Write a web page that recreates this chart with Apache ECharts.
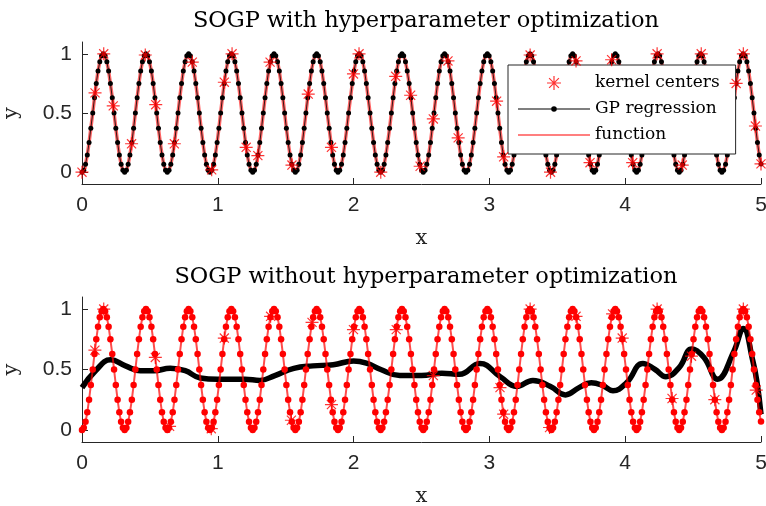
<!DOCTYPE html>
<html>
<head>
<meta charset="utf-8">
<script src="https://cdn.jsdelivr.net/npm/echarts@6/dist/echarts.min.js"></script>
<style>
  html, body { margin: 0; padding: 0; background: #fff; }
  #chart { width: 766px; height: 506px; }
</style>
</head>
<body>
<div id="chart"></div>
<script>
// Sample inputs (24 samples per period of the target function)
const xs = [
  0.000,0.013,0.026,0.039,0.052,0.065,0.079,0.092,0.105,0.118,0.131,0.144,0.157,0.170,0.183,0.196,0.209,0.223,0.236,0.249,0.262,0.275,0.288,0.301,
  0.314,0.327,0.340,0.353,0.367,0.380,0.393,0.406,0.419,0.432,0.445,0.458,0.471,0.484,0.497,0.511,0.524,0.537,0.550,0.563,0.576,0.589,0.602,0.615,
  0.628,0.641,0.654,0.668,0.681,0.694,0.707,0.720,0.733,0.746,0.759,0.772,0.785,0.798,0.812,0.825,0.838,0.851,0.864,0.877,0.890,0.903,0.916,0.929,
  0.942,0.956,0.969,0.982,0.995,1.008,1.021,1.034,1.047,1.060,1.073,1.086,1.100,1.113,1.126,1.139,1.152,1.165,1.178,1.191,1.204,1.217,1.230,1.244,
  1.257,1.270,1.283,1.296,1.309,1.322,1.335,1.348,1.361,1.374,1.388,1.401,1.414,1.427,1.440,1.453,1.466,1.479,1.492,1.505,1.518,1.532,1.545,1.558,
  1.571,1.584,1.597,1.610,1.623,1.636,1.649,1.662,1.676,1.689,1.702,1.715,1.728,1.741,1.754,1.767,1.780,1.793,1.806,1.820,1.833,1.846,1.859,1.872,
  1.885,1.898,1.911,1.924,1.937,1.950,1.963,1.977,1.990,2.003,2.016,2.029,2.042,2.055,2.068,2.081,2.094,2.107,2.121,2.134,2.147,2.160,2.173,2.186,
  2.199,2.212,2.225,2.238,2.251,2.265,2.278,2.291,2.304,2.317,2.330,2.343,2.356,2.369,2.382,2.395,2.409,2.422,2.435,2.448,2.461,2.474,2.487,2.500,
  2.513,2.526,2.539,2.553,2.566,2.579,2.592,2.605,2.618,2.631,2.644,2.657,2.670,2.683,2.697,2.710,2.723,2.736,2.749,2.762,2.775,2.788,2.801,2.814,
  2.827,2.841,2.854,2.867,2.880,2.893,2.906,2.919,2.932,2.945,2.958,2.971,2.985,2.998,3.011,3.024,3.037,3.050,3.063,3.076,3.089,3.102,3.115,3.129,
  3.142,3.155,3.168,3.181,3.194,3.207,3.220,3.233,3.246,3.259,3.272,3.286,3.299,3.312,3.325,3.338,3.351,3.364,3.377,3.390,3.403,3.416,3.430,3.443,
  3.456,3.469,3.482,3.495,3.508,3.521,3.534,3.547,3.560,3.574,3.587,3.600,3.613,3.626,3.639,3.652,3.665,3.678,3.691,3.704,3.718,3.731,3.744,3.757,
  3.770,3.783,3.796,3.809,3.822,3.835,3.848,3.862,3.875,3.888,3.901,3.914,3.927,3.940,3.953,3.966,3.979,3.992,4.006,4.019,4.032,4.045,4.058,4.071,
  4.084,4.097,4.110,4.123,4.136,4.150,4.163,4.176,4.189,4.202,4.215,4.228,4.241,4.254,4.267,4.280,4.294,4.307,4.320,4.333,4.346,4.359,4.372,4.385,
  4.398,4.411,4.424,4.437,4.451,4.464,4.477,4.490,4.503,4.516,4.529,4.542,4.555,4.568,4.581,4.595,4.608,4.621,4.634,4.647,4.660,4.673,4.686,4.699,
  4.712,4.725,4.739,4.752,4.765,4.778,4.791,4.804,4.817,4.830,4.843,4.856,4.869,4.883,4.896,4.909,4.922,4.935,4.948,4.961,4.974,4.987,5.000
];

// Function values at the sample inputs
const fx = [
  0,0.017,0.067,0.146,0.25,0.371,0.5,0.629,0.75,0.854,0.933,0.983,1,0.983,0.933,0.854,0.75,0.629,0.5,0.371,0.25,0.146,0.067,0.017,
  0,0.017,0.067,0.146,0.25,0.371,0.5,0.629,0.75,0.854,0.933,0.983,1,0.983,0.933,0.854,0.75,0.629,0.5,0.371,0.25,0.146,0.067,0.017,
  0,0.017,0.067,0.146,0.25,0.371,0.5,0.629,0.75,0.854,0.933,0.983,1,0.983,0.933,0.854,0.75,0.629,0.5,0.371,0.25,0.146,0.067,0.017,
  0,0.017,0.067,0.146,0.25,0.371,0.5,0.629,0.75,0.854,0.933,0.983,1,0.983,0.933,0.854,0.75,0.629,0.5,0.371,0.25,0.146,0.067,0.017,
  0,0.017,0.067,0.146,0.25,0.371,0.5,0.629,0.75,0.854,0.933,0.983,1,0.983,0.933,0.854,0.75,0.629,0.5,0.371,0.25,0.146,0.067,0.017,
  0,0.017,0.067,0.146,0.25,0.371,0.5,0.629,0.75,0.854,0.933,0.983,1,0.983,0.933,0.854,0.75,0.629,0.5,0.371,0.25,0.146,0.067,0.017,
  0,0.017,0.067,0.146,0.25,0.371,0.5,0.629,0.75,0.854,0.933,0.983,1,0.983,0.933,0.854,0.75,0.629,0.5,0.371,0.25,0.146,0.067,0.017,
  0,0.017,0.067,0.146,0.25,0.371,0.5,0.629,0.75,0.854,0.933,0.983,1,0.983,0.933,0.854,0.75,0.629,0.5,0.371,0.25,0.146,0.067,0.017,
  0,0.017,0.067,0.146,0.25,0.371,0.5,0.629,0.75,0.854,0.933,0.983,1,0.983,0.933,0.854,0.75,0.629,0.5,0.371,0.25,0.146,0.067,0.017,
  0,0.017,0.067,0.146,0.25,0.371,0.5,0.629,0.75,0.854,0.933,0.983,1,0.983,0.933,0.854,0.75,0.629,0.5,0.371,0.25,0.146,0.067,0.017,
  0,0.017,0.067,0.146,0.25,0.371,0.5,0.629,0.75,0.854,0.933,0.983,1,0.983,0.933,0.854,0.75,0.629,0.5,0.371,0.25,0.146,0.067,0.017,
  0,0.017,0.067,0.146,0.25,0.371,0.5,0.629,0.75,0.854,0.933,0.983,1,0.983,0.933,0.854,0.75,0.629,0.5,0.371,0.25,0.146,0.067,0.017,
  0,0.017,0.067,0.146,0.25,0.371,0.5,0.629,0.75,0.854,0.933,0.983,1,0.983,0.933,0.854,0.75,0.629,0.5,0.371,0.25,0.146,0.067,0.017,
  0,0.017,0.067,0.146,0.25,0.371,0.5,0.629,0.75,0.854,0.933,0.983,1,0.983,0.933,0.854,0.75,0.629,0.5,0.371,0.25,0.146,0.067,0.017,
  0,0.017,0.067,0.146,0.25,0.371,0.5,0.629,0.75,0.854,0.933,0.983,1,0.983,0.933,0.854,0.75,0.629,0.5,0.371,0.25,0.146,0.067,0.017,
  0,0.017,0.067,0.146,0.25,0.371,0.5,0.629,0.75,0.854,0.933,0.983,1,0.983,0.933,0.854,0.75,0.629,0.5,0.371,0.25,0.146,0.069
];

// GP prediction with optimized hyperparameters (follows the function at the samples)
const gpOpt = fx;

// GP prediction without hyperparameter optimization
const gpPlainX = [0, 0.1, 0.21, 0.32, 0.43, 0.53, 0.65, 0.76, 0.87, 1.0, 1.1, 1.2, 1.31, 1.42, 1.56, 1.7, 1.85, 2.0, 2.1, 2.2, 2.34, 2.5, 2.65, 2.78, 2.93, 3.08, 3.2, 3.32, 3.45, 3.56, 3.66, 3.75, 3.83, 3.91, 4.01, 4.13, 4.22, 4.3, 4.4, 4.49, 4.58, 4.68, 4.8, 4.87, 4.94, 4.97, 5.0];
const gpPlainY = [0.35, 0.49, 0.58, 0.53, 0.49, 0.49, 0.51, 0.49, 0.43, 0.42, 0.42, 0.42, 0.41, 0.45, 0.51, 0.53, 0.54, 0.57, 0.55, 0.5, 0.45, 0.45, 0.47, 0.46, 0.55, 0.44, 0.36, 0.41, 0.36, 0.29, 0.35, 0.39, 0.37, 0.325, 0.39, 0.55, 0.5, 0.44, 0.52, 0.67, 0.6, 0.42, 0.65, 0.84, 0.57, 0.4, 0.13];

// Kernel centers (basis vectors) kept by each model
const centersOptX = [0, 0.096, 0.16, 0.23, 0.365, 0.466, 0.543, 0.68, 0.812, 0.955, 1.048, 1.105, 1.209, 1.295, 1.385, 1.546, 1.666, 1.837, 1.999, 2.04, 2.2, 2.31, 2.42, 2.49, 2.587, 2.695, 2.77, 3.053, 3.105, 3.30, 3.45, 3.638, 3.741, 3.90, 4.055, 4.235, 4.42, 4.56, 4.817, 4.87, 4.959, 5.0];
const centersOptY = [0, 0.67, 1.0, 0.56, 0.24, 0.99, 0.57, 0.24, 0.93, 0.02, 0.76, 1.0, 0.21, 0.14, 0.93, 0.06, 0.66, 0.21, 0.83, 1.0, 0.0, 0.81, 0.65, 0.05, 0.45, 0.94, 0.29, 0.6, 0.13, 0.99, 0.0, 0.94, 0.08, 0.95, 0.08, 1.0, 0.06, 1.0, 0.75, 1.0, 0.39, 0.07];
const centersPlainX = [0.095, 0.16, 0.54, 0.645, 0.952, 1.048, 1.389, 1.542, 1.694, 1.837, 1.999, 2.314, 2.587, 3.078, 3.105, 3.30, 3.443, 3.638, 3.907, 3.978, 4.235, 4.345, 4.488, 4.66, 4.87, 4.965];
const centersPlainY = [0.66, 1.0, 0.6, 0.03, 0.01, 0.76, 0.94, 0.08, 0.89, 0.21, 0.83, 0.83, 0.45, 0.35, 0.13, 1.0, 0.02, 0.94, 0.96, 0.76, 1.0, 0.26, 0.61, 0.25, 1.0, 0.33];

// Axis ticks
const xTicks = [0, 1, 2, 3, 4, 5];
const yTicks = [0, 0.5, 1];

const titles = ['SOGP with hyperparameter optimization', 'SOGP without hyperparameter optimization'];

const pair = (a, b) => a.map((v, i) => [v, b[i]]);
const STAR = 'path://M5,0L5,10M0,5L10,5M1.5,1.5L8.5,8.5M1.5,8.5L8.5,1.5';
// legend glyphs: a plain line, and a line with a dot in the middle
const ICON_LINE = 'path://M0,6.5H72V7.5H0Z';
const ICON_LINE_DOT = 'path://M0,6.5H72V7.5H0Z M36,4.2A2.8,2.8 0 1 1 36,9.8A2.8,2.8 0 1 1 36,4.2Z';
const AXIS = '#262626';
const SERIF = 'DejaVu Serif';
const SANS = 'Liberation Sans';

function xAxisFor(idx) {
  return {
    gridIndex: idx, type: 'value', min: xTicks[0], max: xTicks[xTicks.length - 1], interval: 1,
    axisLine: { show: true, onZero: false, lineStyle: { color: AXIS, width: 1 } },
    axisTick: { show: true, inside: true, length: 6, lineStyle: { color: AXIS } },
    axisLabel: { fontFamily: SANS, fontSize: 21, color: AXIS, margin: 11 },
    splitLine: { show: false },
    name: 'x', nameLocation: 'middle', nameGap: 44,
    nameTextStyle: { fontFamily: SERIF, fontSize: 21, color: AXIS }
  };
}
function yAxisFor(idx) {
  return {
    gridIndex: idx, type: 'value', min: -0.1, max: 1.1,
    axisLine: { show: true, lineStyle: { color: AXIS, width: 1 } },
    axisTick: { show: true, inside: true, length: 6, customValues: yTicks, lineStyle: { color: AXIS } },
    axisLabel: { fontFamily: SANS, fontSize: 21, color: AXIS, margin: 10, customValues: yTicks,
      formatter: v => String(v) },
    splitLine: { show: false },
    name: 'y', nameLocation: 'middle', nameGap: 60, nameRotate: 90,
    nameTextStyle: { fontFamily: SERIF, fontSize: 21, color: AXIS }
  };
}

const chart = echarts.init(document.getElementById('chart'), null, { renderer: 'canvas' });
chart.setOption({
  animation: false,
  backgroundColor: '#fff',
  title: [
    { text: titles[0], left: 421, top: 5, textAlign: 'center',
      textStyle: { fontFamily: SERIF, fontSize: 22.5, fontWeight: 'normal', color: '#000' } },
    { text: titles[1], left: 421, top: 261, textAlign: 'center',
      textStyle: { fontFamily: SERIF, fontSize: 22.5, fontWeight: 'normal', color: '#000' } }
  ],
  grid: [
    { left: 82, top: 42, width: 679, height: 142, outerBoundsMode: 'none', containLabel: false },
    { left: 82, top: 297, width: 679, height: 145, outerBoundsMode: 'none', containLabel: false }
  ],
  xAxis: [xAxisFor(0), xAxisFor(1)],
  yAxis: [yAxisFor(0), yAxisFor(1)],
  legend: {
    orient: 'vertical', left: 508, top: 65,
    backgroundColor: '#fff', borderColor: AXIS, borderWidth: 1,
    padding: [8, 16, 9, 10], itemGap: 6, itemWidth: 72, itemHeight: 14,
    textStyle: { fontFamily: SERIF, fontSize: 17, color: '#000', lineHeight: 20 },
    selectedMode: false,
    data: [
      { name: 'kernel centers', icon: STAR, itemStyle: { color: 'transparent', borderColor: '#ff0000', borderWidth: 1.2 } },
      { name: 'GP regression', icon: ICON_LINE_DOT, itemStyle: { color: '#000', borderWidth: 0 } },
      { name: 'function', icon: ICON_LINE, itemStyle: { color: '#ff0000', borderWidth: 0 } }
    ]
  },
  series: [
    // top panel
    { name: 'function', type: 'line', xAxisIndex: 0, yAxisIndex: 0, data: pair(xs, fx),
      symbol: 'none', lineStyle: { color: 'rgba(255,0,0,0.6)', width: 3.5 }, itemStyle: { color: '#ff0000' }, z: 2 },
    { name: 'GP regression', type: 'line', xAxisIndex: 0, yAxisIndex: 0, data: pair(xs, gpOpt),
      symbol: 'circle', symbolSize: 5, showSymbol: true,
      lineStyle: { color: '#000', width: 0.8 }, itemStyle: { color: '#000' }, z: 3 },
    { name: 'kernel centers', type: 'scatter', xAxisIndex: 0, yAxisIndex: 0, data: pair(centersOptX, centersOptY),
      symbol: STAR, symbolSize: 13,
      itemStyle: { color: 'transparent', borderColor: '#ff0000', borderWidth: 1.2 }, z: 4 },
    // bottom panel
    { name: 'GP regression (no optimization)', type: 'line', xAxisIndex: 1, yAxisIndex: 1, data: pair(gpPlainX, gpPlainY),
      smooth: 0.45, symbol: 'none', lineStyle: { color: '#000', width: 5.5 }, z: 2 },
    { name: 'function (no optimization)', type: 'line', xAxisIndex: 1, yAxisIndex: 1, data: pair(xs, fx),
      symbol: 'circle', symbolSize: 6.5, showSymbol: true,
      lineStyle: { color: 'rgba(255,0,0,0.7)', width: 2 }, itemStyle: { color: '#ff0000' }, z: 3 },
    { name: 'kernel centers (no optimization)', type: 'scatter', xAxisIndex: 1, yAxisIndex: 1, data: pair(centersPlainX, centersPlainY),
      symbol: STAR, symbolSize: 13,
      itemStyle: { color: 'transparent', borderColor: '#ff0000', borderWidth: 1.2 }, z: 4 }
  ]
});
</script>
</body>
</html>
